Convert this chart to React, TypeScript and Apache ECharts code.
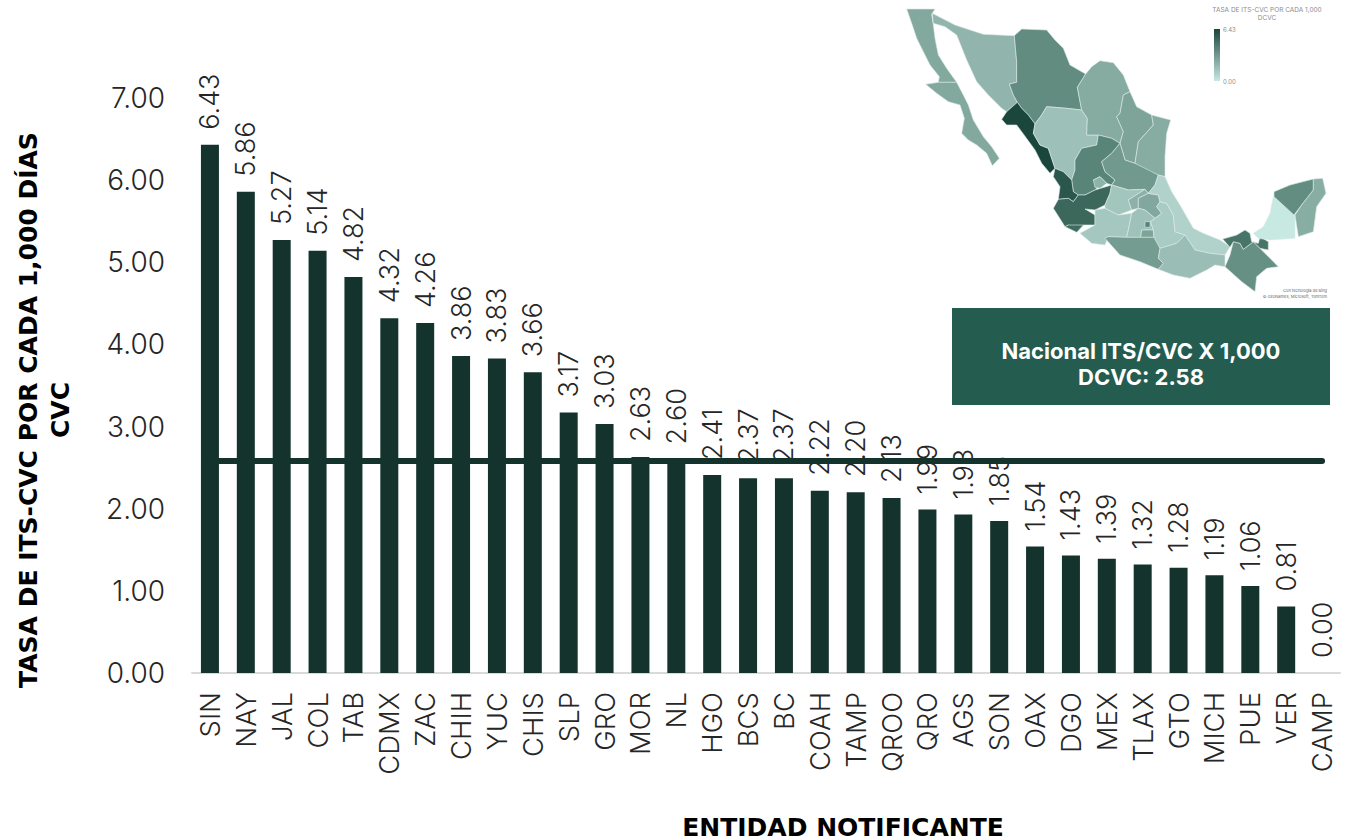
import React, { useEffect, useRef } from "react";
import * as echarts from "echarts";

const categories = ["SIN","NAY","JAL","COL","TAB","CDMX","ZAC","CHIH","YUC","CHIS","SLP","GRO","MOR","NL","HGO","BCS","BC","COAH","TAMP","QROO","QRO","AGS","SON","OAX","DGO","MEX","TLAX","GTO","MICH","PUE","VER","CAMP"];
const rates = [6.43,5.86,5.27,5.14,4.82,4.32,4.26,3.86,3.83,3.66,3.17,3.03,2.63,2.6,2.41,2.37,2.37,2.22,2.2,2.13,1.99,1.93,1.85,1.54,1.43,1.39,1.32,1.28,1.19,1.06,0.81,0];
const nationalRate = 2.58;
const FONT = "Inter";
const TITLE_FONT = "DejaVu Sans";

// Simplified state outlines for the choropleth inset
const outlines: Record<string, number[][]> = {
  BC: [[20,27],[105,27],[95,43],[100,75],[105,115],[115,165],[140,205],[170,247],[115,247],[118,230],[90,195],[70,155],[50,115],[35,70]],
  BCS: [[77,253],[115,247],[170,247],[190,285],[205,315],[220,360],[250,410],[275,440],[298,475],[277,497],[260,460],[230,435],[205,420],[185,400],[193,355],[180,315],[145,305],[110,280]],
  SON: [[97,40],[165,75],[250,103],[343,107],[350,185],[350,247],[328,252],[340,285],[352,307],[320,335],[305,325],[265,285],[230,245],[200,180],[170,105],[135,80],[100,70]],
  CHIH: [[343,107],[365,87],[440,90],[465,120],[490,145],[510,195],[557,222],[532,262],[545,330],[500,325],[440,320],[425,345],[405,372],[385,345],[365,325],[352,307],[340,285],[328,252],[350,247],[350,185]],
  SIN: [[352,307],[365,325],[385,345],[405,372],[400,400],[420,435],[445,445],[465,505],[450,520],[425,490],[405,450],[365,395],[350,375],[320,375],[305,358],[320,335]],
  DGO: [[440,320],[500,325],[545,330],[562,355],[560,405],[595,405],[590,435],[545,445],[525,480],[525,510],[515,540],[490,515],[465,505],[445,445],[420,435],[400,400],[405,372],[425,345]],
  COAH: [[557,222],[575,200],[600,182],[640,188],[670,225],[690,275],[670,285],[660,340],[650,350],[670,395],[660,430],[635,415],[595,405],[560,405],[562,355],[545,330],[532,262]],
  NL: [[690,275],[710,320],[755,345],[760,375],[715,425],[705,490],[675,480],[660,430],[670,395],[650,350],[660,340],[670,285]],
  TAMP: [[755,345],[812,360],[800,400],[795,470],[795,530],[775,525],[735,510],[705,490],[715,425],[760,375]],
  ZAC: [[595,405],[635,415],[660,430],[635,460],[605,485],[615,515],[645,540],[635,555],[620,550],[600,530],[580,540],[595,560],[585,570],[555,585],[535,585],[520,575],[515,540],[525,510],[525,480],[545,445],[590,435]],
  AGS: [[580,540],[600,530],[620,550],[600,565],[585,562]],
  SLP: [[660,430],[675,480],[705,490],[775,525],[765,555],[745,580],[735,568],[685,570],[635,555],[645,540],[615,515],[605,485],[635,460]],
  NAY: [[465,505],[490,515],[515,540],[520,575],[535,585],[520,605],[505,595],[475,598],[480,560],[460,530]],
  JAL: [[475,598],[505,595],[520,605],[535,585],[555,585],[585,570],[635,555],[630,580],[615,615],[585,630],[555,627],[585,645],[585,675],[550,675],[530,697],[505,675],[495,680],[460,625]],
  COL: [[495,680],[505,675],[550,675],[530,697]],
  GTO: [[635,555],[685,570],[735,568],[685,600],[695,630],[655,645],[615,625],[615,615],[630,580]],
  QRO: [[685,600],[735,568],[745,580],[715,595],[715,625],[695,630]],
  HGO: [[715,595],[745,580],[775,585],[780,605],[770,620],[785,640],[765,655],[735,630],[715,625]],
  MICH: [[585,630],[615,625],[655,645],[695,640],[685,690],[680,712],[625,710],[615,735],[575,730],[540,700],[585,675],[585,645]],
  MEX: [[695,640],[715,625],[735,630],[765,655],[752,665],[760,690],[725,690],[722,712],[680,712],[685,690]],
  CDMX: [[735,665],[750,665],[750,682],[735,682]],
  MOR: [[725,690],[760,690],[762,712],[722,712]],
  TLAX: [[770,655],[805,660],[800,675],[780,680]],
  PUE: [[780,605],[800,610],[820,645],[825,695],[855,705],[830,730],[780,745],[762,712],[760,690],[752,665],[765,655],[785,640],[770,620]],
  VER: [[775,525],[795,530],[815,575],[840,615],[880,685],[910,700],[960,720],[990,740],[975,765],[930,760],[885,750],[855,705],[825,695],[820,645],[800,610],[780,605],[775,585],[745,580],[765,555]],
  GRO: [[615,715],[625,710],[680,712],[722,712],[762,712],[780,745],[775,775],[790,790],[775,808],[720,785],[660,765]],
  OAX: [[780,745],[830,730],[855,705],[885,750],[930,760],[975,765],[975,800],[945,795],[920,810],[870,835],[820,825],[775,808],[790,790],[775,775]],
  CHIS: [[975,800],[990,765],[1000,725],[1020,730],[1030,748],[1060,725],[1135,800],[1100,805],[1070,830],[1065,875],[1025,845]],
  TAB: [[968,717],[1010,705],[1035,690],[1050,700],[1055,725],[1075,730],[1080,710],[1105,725],[1105,750],[1080,745],[1060,725],[1030,748],[1020,730],[1000,725],[990,742]],
  CAMP: [[1120,590],[1185,645],[1185,715],[1110,720],[1075,715],[1060,700],[1090,680],[1110,640]],
  YUC: [[1122,575],[1170,555],[1240,537],[1240,570],[1205,615],[1182,645],[1122,590]],
  QROO: [[1240,537],[1268,535],[1278,580],[1250,620],[1240,695],[1195,710],[1185,645],[1205,615],[1240,570]],
};

const geoJson = {
  type: "FeatureCollection",
  features: Object.keys(outlines).map((name) => ({
    type: "Feature",
    properties: { name },
    geometry: { type: "Polygon", coordinates: [[...outlines[name], outlines[name][0]]] },
  })),
};

export default function App() {
  const ref = useRef<HTMLDivElement>(null);
  useEffect(() => {
    echarts.registerMap("mx", geoJson as any);
    const chart = echarts.init(ref.current!, null, { renderer: "svg" });
    chart.setOption({
      animation: false,
      textStyle: { fontFamily: FONT },
      grid: { left: 192, right: 6, top: 98, bottom: 167 },
      xAxis: {
        type: "category",
        data: categories,
        axisTick: { show: false },
        axisLine: { lineStyle: { color: "#d9d9d9", width: 2 } },
        axisLabel: { interval: 0, rotate: 90, margin: 19, fontSize: 27.5, fontWeight: 300, color: "#262626", fontFamily: FONT },
      },
      yAxis: {
        type: "value",
        min: 0,
        max: 7,
        interval: 1,
        splitLine: { show: false },
        axisLine: { show: false },
        axisTick: { show: false },
        axisLabel: { margin: 27, fontSize: 28, fontWeight: 300, color: "#262626", fontFamily: FONT, formatter: (v: number) => v.toFixed(2) },
      },
      visualMap: {
        show: false,
        type: "continuous",
        seriesIndex: 2,
        min: 0,
        max: 6.43,
        inRange: { color: ["#c8e8e2", "#88ada3", "#588477", "#1a463c"] },
      },
      series: [
        {
          type: "bar",
          data: rates,
          barWidth: 18,
          itemStyle: { color: "#14332d" },
          label: {
            show: true,
            position: "top",
            distance: 15,
            rotate: 90,
            align: "left",
            verticalAlign: "middle",
            fontSize: 27,
            fontWeight: 300,
            color: "#262626",
            fontFamily: FONT,
            formatter: (p: any) => Number(p.value).toFixed(2),
          },
        },
        {
          type: "line",
          z: 5,
          data: categories.map(() => nationalRate),
          showSymbol: false,
          lineStyle: { color: "#14332d", width: 6, cap: "round" },
          silent: true,
        },
        {
          type: "map",
          map: "mx",
          projection: { project: (p: number[]) => p, unproject: (p: number[]) => p },
          left: 906.67,
          top: 9,
          width: 419.33,
          height: 282.67,
          roam: false,
          silent: true,
          selectedMode: false,
          label: { show: false },
          emphasis: { disabled: true },
          itemStyle: { borderColor: "#dcebe7", borderWidth: 0.6 },
          data: categories.map((name, i) => ({ name, value: rates[i] })),
        },
      ],
      graphic: [
        { type: "rect", shape: { x: 952, y: 308, width: 378, height: 97 }, style: { fill: "#245c4f" } },
        { type: "text", x: 1141, y: 364, style: { text: "Nacional ITS/CVC X 1,000\nDCVC: 2.58", fill: "#ffffff", font: `bold 22px "${FONT}"`, align: "center", verticalAlign: "middle", lineHeight: 26 } },
        { type: "text", x: 28, y: 410, rotation: Math.PI / 2, style: { text: "TASA DE ITS-CVC POR CADA 1,000 DÍAS", fill: "#000000", font: `bold 25px "${TITLE_FONT}"`, align: "center", verticalAlign: "middle" } },
        { type: "text", x: 60, y: 410, rotation: Math.PI / 2, style: { text: "CVC", fill: "#000000", font: `bold 25px "${TITLE_FONT}"`, align: "center", verticalAlign: "middle" } },
        { type: "text", x: 843, y: 827, style: { text: "ENTIDAD NOTIFICANTE", fill: "#000000", font: `bold 25px "${TITLE_FONT}"`, align: "center", verticalAlign: "middle" } },
        { type: "text", x: 1267, y: 13.5, style: { text: "TASA DE ITS-CVC POR CADA 1,000\nDCVC", fill: "#8c8c8c", font: `6.5px "${FONT}"`, align: "center", verticalAlign: "middle", lineHeight: 8 } },
        { type: "rect", shape: { x: 1214, y: 29, width: 6, height: 52 }, style: { fill: new echarts.graphic.LinearGradient(0, 0, 0, 1, [{ offset: 0, color: "#1a463c" }, { offset: 1, color: "#c8e8e2" }]) } },
        { type: "text", x: 1223, y: 29, style: { text: "6.43", fill: "#8c8c8c", font: `6px "${FONT}"`, verticalAlign: "middle" } },
        { type: "text", x: 1223, y: 81, style: { text: "0.00", fill: "#8c8c8c", font: `6px "${FONT}"`, verticalAlign: "middle" } },
        { type: "text", x: 1327, y: 293, style: { text: "Con tecnología de Bing\n© GeoNames, Microsoft, TomTom", fill: "#666666", font: `4px "${FONT}"`, align: "right", verticalAlign: "middle", lineHeight: 6 } },
      ],
    });
    return () => chart.dispose();
  }, []);
  return <div ref={ref} style={{ position: "absolute", left: 0, top: 0, width: 1346, height: 840 }} />;
}
